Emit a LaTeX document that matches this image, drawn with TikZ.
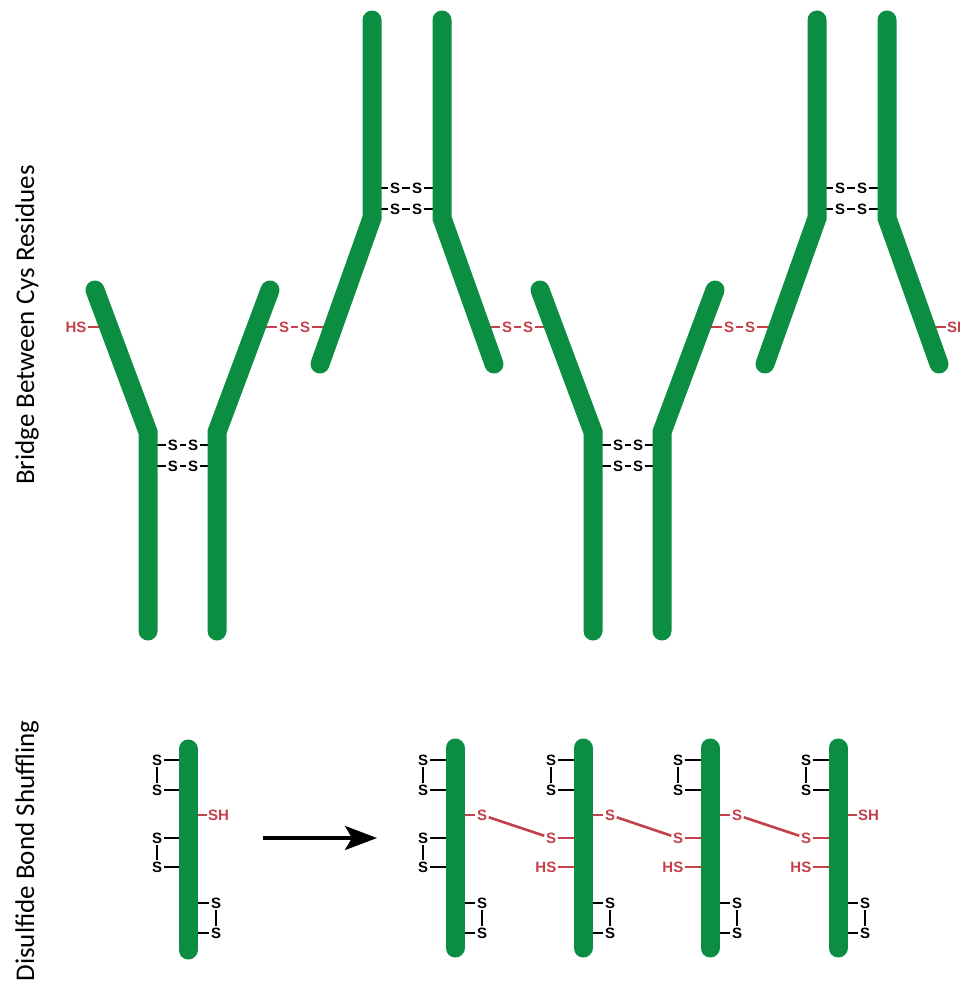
\documentclass[tikz,border=0pt]{standalone}
\usepackage{fontspec}
\setmainfont{Liberation Sans}
\newfontfamily\labelfont{Carlito}
\usetikzlibrary{arrows.meta}

\definecolor{chaingreen}{RGB}{12,142,66}
\definecolor{thiolred}{RGB}{196,64,74}

\tikzset{
  chain/.style={draw=chaingreen, line width=19pt, line cap=round, line join=miter},
  sulfur/.style={font=\fontsize{15}{17}\selectfont\bfseries, inner sep=1.5pt, text=black},
  thiol/.style={sulfur, text=thiolred},
  bond/.style={draw=black, line width=2.6pt},
  redbond/.style={draw=thiolred, line width=2.6pt},
  sidelabel/.style={font=\labelfont\fontsize{27}{30}\selectfont, rotate=90, inner sep=0pt},
  bigarrow/.style={draw=black, line width=3.5pt, -{Stealth[length=32pt, width=24pt, inset=7pt]}}
}

% disulfide loop on a vertical chain: name, chain x, S x, upper y, lower y
\newcommand\cysloop[5]{%
  \node[sulfur] (#1a) at (#3,#4) {S};
  \node[sulfur] (#1b) at (#3,#5) {S};
  \coordinate (#1p) at (#2,#4);
  \coordinate (#1q) at (#2,#5);
  \draw[bond] (#1p) -- (#1a) -- (#1b) -- (#1q);
}

% upright antibody (stems at the bottom): name, x offset
\newcommand\uprightab[2]{%
  \begin{scope}[xshift=#2]
    \coordinate (#1-la) at (95,290);
    \coordinate (#1-lb) at (148,432);
    \coordinate (#1-lc) at (148,631);
    \coordinate (#1-ra) at (270,290);
    \coordinate (#1-rb) at (217,432);
    \coordinate (#1-rc) at (217,631);
    \coordinate (#1-lx) at (108.8,327);
    \coordinate (#1-rx) at (256.2,327);
    \coordinate (#1-l1) at (148,445);
    \coordinate (#1-r1) at (217,445);
    \coordinate (#1-l2) at (148,466);
    \coordinate (#1-r2) at (217,466);
    \node[sulfur] (#1-s1) at (173,445) {S};
    \node[sulfur] (#1-s2) at (193,445) {S};
    \node[sulfur] (#1-s3) at (173,466) {S};
    \node[sulfur] (#1-s4) at (193,466) {S};
    \draw[bond] (#1-l1) -- (#1-s1) -- (#1-s2) -- (#1-r1);
    \draw[bond] (#1-l2) -- (#1-s3) -- (#1-s4) -- (#1-r2);
  \end{scope}
}

% inverted antibody (stems at the top): name, x offset
\newcommand\invertedab[2]{%
  \begin{scope}[xshift=#2]
    \coordinate (#1-lc) at (372,20);
    \coordinate (#1-lb) at (372,218);
    \coordinate (#1-la) at (320,364);
    \coordinate (#1-rc) at (442,20);
    \coordinate (#1-rb) at (442,218);
    \coordinate (#1-ra) at (494,364);
    \coordinate (#1-lx) at (333.2,327);
    \coordinate (#1-rx) at (480.8,327);
    \coordinate (#1-l1) at (372,188);
    \coordinate (#1-r1) at (442,188);
    \coordinate (#1-l2) at (372,209);
    \coordinate (#1-r2) at (442,209);
    \node[sulfur] (#1-s1) at (395,188) {S};
    \node[sulfur] (#1-s2) at (417,188) {S};
    \node[sulfur] (#1-s3) at (395,209) {S};
    \node[sulfur] (#1-s4) at (417,209) {S};
    \draw[bond] (#1-l1) -- (#1-s1) -- (#1-s2) -- (#1-r1);
    \draw[bond] (#1-l2) -- (#1-s3) -- (#1-s4) -- (#1-r2);
  \end{scope}
}

\begin{document}
\begin{tikzpicture}[x=1pt, y=-1pt]
  \useasboundingbox (0,0) rectangle (959,982);
  \clip (0,0) rectangle (959,982);
  \fill[white] (0,0) rectangle (959,982);

  % ---------- side labels ----------
  \node[sidelabel] (lab-top) at (27,325) {Bridge Between Cys Residues};
  \node[sidelabel] (lab-bottom) at (27,851) {Disulfide Bond Shuffling};

  % ---------- antibodies bridged through cysteines ----------
  \uprightab{ab1}{0}
  \invertedab{ab2}{0}
  \uprightab{ab3}{445}
  \invertedab{ab4}{445}

  \node[thiol] (hs0) at (76,327) {HS};
  \draw[redbond] (hs0) -- (ab1-lx);

  \node[thiol] (b1a) at (284,327) {S};
  \node[thiol] (b1b) at (305,327) {S};
  \draw[redbond] (ab1-rx) -- (b1a) -- (b1b) -- (ab2-lx);

  \node[thiol] (b2a) at (507,327) {S};
  \node[thiol] (b2b) at (528,327) {S};
  \draw[redbond] (ab2-rx) -- (b2a) -- (b2b) -- (ab3-lx);

  \node[thiol] (b3a) at (729,327) {S};
  \node[thiol] (b3b) at (750,327) {S};
  \draw[redbond] (ab3-rx) -- (b3a) -- (b3b) -- (ab4-lx);

  \node[thiol, anchor=west] (sh4) at (945.5,327) {SH};
  \draw[redbond] (ab4-rx) -- (sh4);

  \foreach \ab in {ab1,ab2,ab3,ab4} {
    \draw[chain] (\ab-la) -- (\ab-lb) -- (\ab-lc);
    \draw[chain] (\ab-ra) -- (\ab-rb) -- (\ab-rc);
  }

  % ---------- disulfide shuffling ----------
  % single chain before shuffling
  \coordinate (c0-top) at (188,749);
  \coordinate (c0-bot) at (188,950);
  \cysloop{c0u}{188}{157}{760}{790}
  \cysloop{c0m}{188}{157}{838}{867}
  \cysloop{c0d}{188}{216}{903}{933}
  \coordinate (c0-sh) at (188,815);
  \node[thiol, anchor=west] (sh0) at (206.5,815) {SH};
  \draw[redbond] (c0-sh) -- (sh0);

  % reaction arrow
  \coordinate (arrow-from) at (263,838);
  \coordinate (arrow-to) at (377,838);
  \draw[bigarrow] (arrow-from) -- (arrow-to);

  % four chains after shuffling
  \foreach \k/\X in {1/455, 2/583, 3/710, 4/838} {
    \coordinate (c\k-top) at (\X,748);
    \coordinate (c\k-bot) at (\X,948);
    \pgfmathsetmacro\sl{\X-32}
    \pgfmathsetmacro\sr{\X+27}
    \cysloop{c\k u}{\X}{\sl}{760}{790}
    \cysloop{c\k d}{\X}{\sr}{903}{933}
    \coordinate (c\k-hi) at (\X,815);
    \coordinate (c\k-lo) at (\X,838);
    \coordinate (c\k-hs) at (\X,867);
  }
  \cysloop{c1m}{455}{423}{838}{867}

  % free thiols and mixed disulfides
  \foreach \k/\X in {2/583, 3/710, 4/838} {
    \pgfmathsetmacro\sl{\X-32}
    \pgfmathsetmacro\hx{\X-25}
    \node[thiol] (c\k-sl) at (\sl,838) {S};
    \draw[redbond] (c\k-sl) -- (c\k-lo);
    \node[thiol, anchor=east] (c\k-hsn) at (\hx,867) {HS};
    \draw[redbond] (c\k-hsn) -- (c\k-hs);
  }
  \foreach \k/\X in {1/455, 2/583, 3/710} {
    \pgfmathsetmacro\sr{\X+27}
    \node[thiol] (c\k-sr) at (\sr,815) {S};
    \draw[redbond] (c\k-hi) -- (c\k-sr);
  }
  \node[thiol, anchor=west] (c4-shn) at (856.5,815) {SH};
  \draw[redbond] (c4-hi) -- (c4-shn);

  \draw[redbond] (c1-sr) -- (c2-sl);
  \draw[redbond] (c2-sr) -- (c3-sl);
  \draw[redbond] (c3-sr) -- (c4-sl);

  \foreach \k in {0,1,2,3,4} {
    \draw[chain] (c\k-top) -- (c\k-bot);
  }
\end{tikzpicture}
\end{document}
